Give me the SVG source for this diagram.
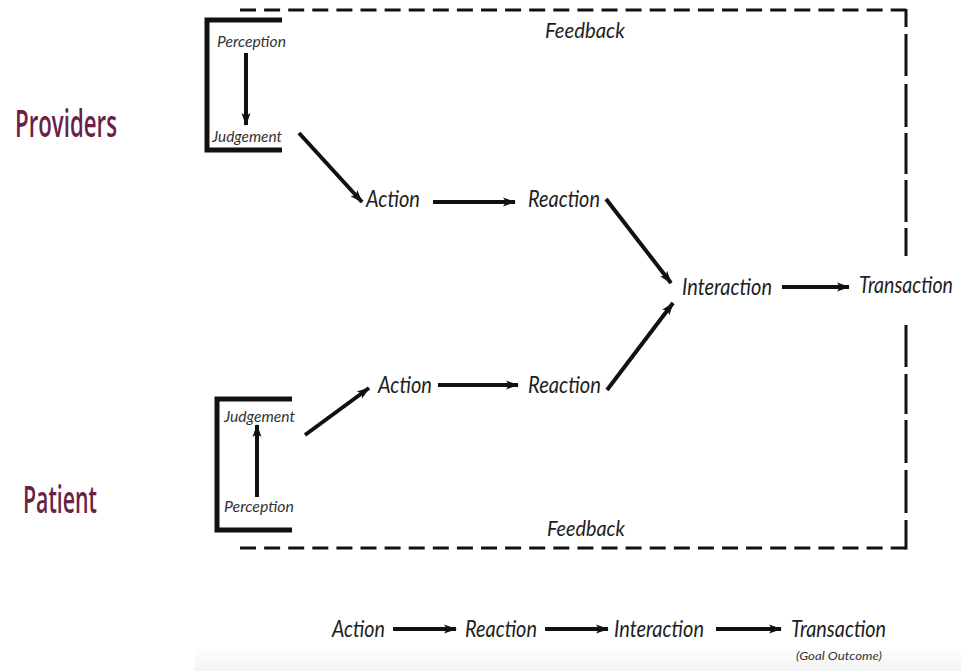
<svg xmlns="http://www.w3.org/2000/svg" width="961" height="671" viewBox="0 0 961 671">
  <style>
    .lbl { font-family: Lato, "Liberation Sans", sans-serif; font-style: italic; fill: #1e1e1e; }
    .big { font-size: 24px; }
    .tall { font-size: 20px; }
    .small { font-size: 16px; fill: #333; }
    .fb { font-size: 21px; }
    .note { font-size: 12px; fill: #333; }
    .role { font-family: "Open Sans", Lato, "Liberation Sans", sans-serif; font-size: 38px; font-weight: 600; fill: #6b1f48; }
    .conn { stroke: #111; stroke-width: 4; fill: none; marker-end: url(#head); }
    .bracket { stroke: #111; stroke-width: 5; fill: none; }
    .dash { stroke: #111; stroke-width: 3; fill: none; }
  </style>
  <defs>
    <marker id="head" markerUnits="userSpaceOnUse" markerWidth="14" markerHeight="12" viewBox="0 0 14 12" refX="12" refY="6" orient="auto">
      <path d="M0,1.5 L13,6 L0,10.5 L3,6 Z" fill="#111"/>
    </marker>
    <linearGradient id="band" x1="0" y1="0" x2="0" y2="1">
      <stop offset="0" stop-color="#ffffff"/>
      <stop offset="1" stop-color="#f3f3f3"/>
    </linearGradient>
  </defs>

  <rect width="961" height="671" fill="#ffffff"/>
  <rect x="195" y="646" width="766" height="25" fill="url(#band)"/>

  <!-- feedback loop frame -->
  <g id="feedback-frame">
    <path class="dash" d="M240,10 H906" stroke-dasharray="16 8.1"/>
    <path class="dash" d="M240,548 H906" stroke-dasharray="16 8.1"/>
    <path class="dash" d="M906,9 V27 M906,34 V76 M906,84 V127 M906,133 V174 M906,180 V222 M906,228 V256 M906,325 V367 M906,374 V414 M906,420 V463 M906,470 V513 M906,520 V549.5"/>
    <text class="lbl fb" x="545" y="38" textLength="80" lengthAdjust="spacingAndGlyphs">Feedback</text>
    <text class="lbl fb" x="547" y="536" textLength="78" lengthAdjust="spacingAndGlyphs">Feedback</text>
  </g>

  <!-- role labels -->
  <g id="providers-label">
    <text class="role" x="15" y="137" textLength="102" lengthAdjust="spacingAndGlyphs">Providers</text>
  </g>
  <g id="patient-label">
    <text class="role" x="23" y="513" textLength="74" lengthAdjust="spacingAndGlyphs">Patient</text>
  </g>

  <!-- provider side -->
  <g id="provider-box">
    <path class="bracket" d="M282,20 H207 V150 H282"/>
    <text class="lbl small" x="217" y="47" textLength="69" lengthAdjust="spacingAndGlyphs">Perception</text>
    <text class="lbl small" x="212" y="142" textLength="70" lengthAdjust="spacingAndGlyphs">Judgement</text>
  </g>
  <g id="provider-action">
    <text class="lbl big" x="366" y="207" textLength="54" lengthAdjust="spacingAndGlyphs">Action</text>
  </g>
  <g id="provider-reaction">
    <text class="lbl big" x="528" y="207" textLength="72" lengthAdjust="spacingAndGlyphs">Reaction</text>
  </g>

  <!-- patient side -->
  <g id="patient-box">
    <path class="bracket" d="M292,399 H217 V530 H292"/>
    <text class="lbl small" x="224" y="422" textLength="71" lengthAdjust="spacingAndGlyphs">Judgement</text>
    <text class="lbl small" x="224" y="512" textLength="70" lengthAdjust="spacingAndGlyphs">Perception</text>
  </g>
  <g id="patient-action">
    <text class="lbl big" x="378" y="393" textLength="54" lengthAdjust="spacingAndGlyphs">Action</text>
  </g>
  <g id="patient-reaction">
    <text class="lbl big" x="528" y="393" textLength="73" lengthAdjust="spacingAndGlyphs">Reaction</text>
  </g>

  <!-- shared outcome -->
  <g id="interaction">
    <text class="lbl big" x="682" y="295" textLength="90" lengthAdjust="spacingAndGlyphs">Interaction</text>
  </g>
  <g id="transaction">
    <!-- stretched vertically so the label stays within the right margin -->
    <text class="lbl tall" transform="scale(1 1.2)" x="859" y="244.2" textLength="94" lengthAdjust="spacingAndGlyphs">Transaction</text>
  </g>

  <!-- summary chain -->
  <g id="summary">
    <text class="lbl big" x="332" y="637" textLength="53" lengthAdjust="spacingAndGlyphs">Action</text>
    <text class="lbl big" x="465" y="637" textLength="72" lengthAdjust="spacingAndGlyphs">Reaction</text>
    <text class="lbl big" x="614" y="637" textLength="90" lengthAdjust="spacingAndGlyphs">Interaction</text>
    <text class="lbl big" x="791" y="637" textLength="95" lengthAdjust="spacingAndGlyphs">Transaction</text>
    <text class="lbl note" x="796" y="660" textLength="86" lengthAdjust="spacingAndGlyphs">(Goal Outcome)</text>
  </g>

  <!-- connectors -->
  <g id="connectors">
    <line class="conn" x1="246" y1="53" x2="246" y2="125"/>
    <line class="conn" x1="299" y1="133" x2="362" y2="202"/>
    <line class="conn" x1="433" y1="202" x2="515" y2="202"/>
    <line class="conn" x1="606" y1="199" x2="671" y2="283"/>
    <line class="conn" x1="782" y1="287" x2="849" y2="287"/>
    <line class="conn" x1="257" y1="497" x2="257" y2="425"/>
    <line class="conn" x1="305" y1="435" x2="369" y2="388"/>
    <line class="conn" x1="438" y1="385" x2="518" y2="385"/>
    <line class="conn" x1="607" y1="390" x2="673" y2="303"/>
    <line class="conn" x1="393" y1="629" x2="456" y2="629"/>
    <line class="conn" x1="545" y1="629" x2="608" y2="629"/>
    <line class="conn" x1="716" y1="629" x2="781" y2="629"/>
  </g>
</svg>
